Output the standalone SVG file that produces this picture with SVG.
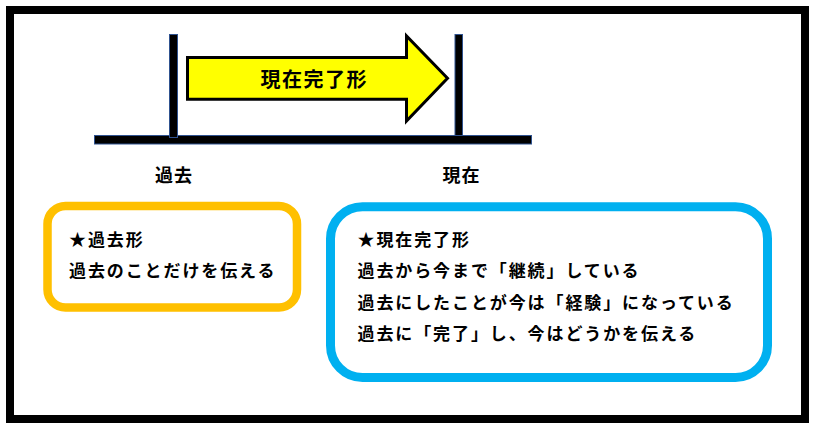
<svg xmlns="http://www.w3.org/2000/svg" width="815" height="429" viewBox="0 0 815 429">
<style>
text{font-family:"Noto Sans CJK JP","Noto Sans CJK SC",sans-serif;font-weight:700;fill:#000}
.bar{fill:#000;stroke:#2F528F;stroke-width:1}
.body{font-size:17px;letter-spacing:1.9px}
.lbl{font-size:18px;letter-spacing:1px}
</style>
<rect x="0" y="0" width="815" height="429" fill="#fff"/>
<rect id="frame" x="10" y="10" width="795" height="409" fill="none" stroke="#000" stroke-width="8"/>
<g id="timeline">
<rect class="bar" x="94.5" y="135.5" width="437" height="8.5"/>
<rect class="bar" x="169.5" y="34.5" width="8" height="103"/>
<rect class="bar" x="455" y="34.5" width="7.5" height="101"/>
</g>
<g id="arrow">
<polygon points="187.5,57.5 406.5,57.5 406.5,36 447.5,78.3 406.5,121 406.5,99.2 187.5,99.2" fill="#FFFF00" stroke="#000" stroke-width="3" stroke-linejoin="miter"/>
<text x="260.5" y="87" style="font-size:20px;letter-spacing:1.5px">現在完了形</text>
</g>
<g id="label-past"><text class="lbl" x="155" y="182">過去</text></g>
<g id="label-present"><text class="lbl" x="442.5" y="182">現在</text></g>
<g id="past-box">
<rect x="47.5" y="206" width="249.5" height="101.5" rx="18" fill="#fff" stroke="#FFC000" stroke-width="8.5"/>
<text class="body" x="69" y="245.5">★過去形</text>
<text class="body" x="69" y="277">過去のことだけを伝える</text>
</g>
<g id="perfect-box">
<rect x="330.5" y="206.7" width="437" height="170.8" rx="32" fill="#fff" stroke="#00B0F0" stroke-width="9"/>
<text class="body" x="357.5" y="245.5">★現在完了形</text>
<text class="body" x="357.5" y="277">過去から今まで「継続」している</text>
<text class="body" x="357.5" y="308.5">過去にしたことが今は「経験」になっている</text>
<text class="body" x="357.5" y="340">過去に「完了」し、今はどうかを伝える</text>
</g>
</svg>
